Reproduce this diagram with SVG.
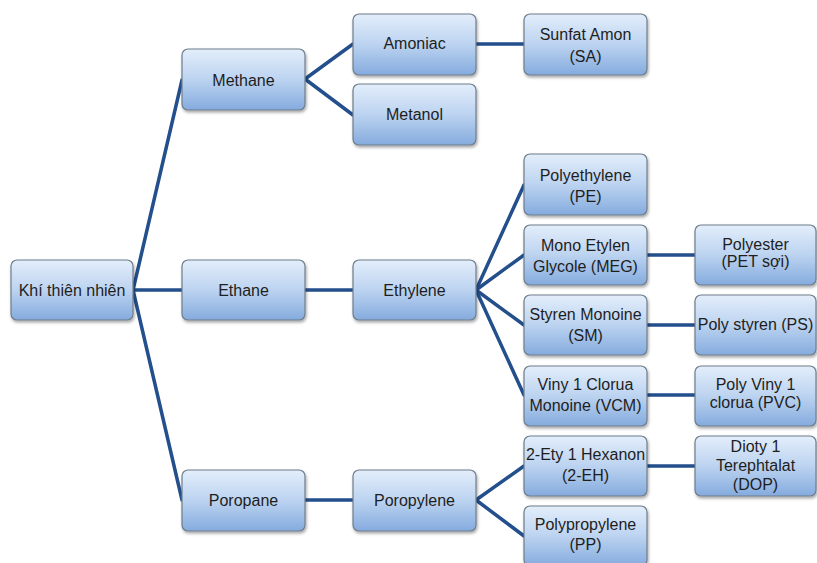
<svg xmlns="http://www.w3.org/2000/svg" width="817" height="563" viewBox="0 0 817 563">
<defs>
<linearGradient id="g" x1="0" y1="0" x2="0" y2="1">
<stop offset="0" stop-color="#e3eefb"/>
<stop offset="0.5" stop-color="#bcd3f0"/>
<stop offset="1" stop-color="#84abde"/>
</linearGradient>
<filter id="sh" x="-10%" y="-10%" width="125%" height="135%">
<feDropShadow dx="1" dy="2" stdDeviation="1.5" flood-color="#000" flood-opacity="0.35"/>
</filter>
<style>
rect.n{fill:url(#g);stroke:#6f7d8c;stroke-width:1.2;filter:url(#sh)}
text{font-family:"Liberation Sans",Arial,sans-serif;font-size:16px;fill:#1e1e1e;text-anchor:middle}
#connectors line{stroke:#234f8c;stroke-width:3.5;stroke-linecap:round}
</style>
</defs>
<rect width="817" height="563" fill="#fff"/>
<g id="connectors">
<line x1="133" y1="290" x2="182" y2="80"/>
<line x1="133" y1="290" x2="182" y2="290"/>
<line x1="133" y1="290" x2="182" y2="500"/>
<line x1="305" y1="79" x2="353" y2="44"/>
<line x1="305" y1="79" x2="353" y2="115"/>
<line x1="476" y1="44" x2="524" y2="44"/>
<line x1="305" y1="290" x2="353" y2="290"/>
<line x1="476" y1="290" x2="524" y2="185"/>
<line x1="476" y1="290" x2="524" y2="255"/>
<line x1="476" y1="290" x2="524" y2="325"/>
<line x1="476" y1="290" x2="524" y2="395"/>
<line x1="647" y1="255" x2="695" y2="255"/>
<line x1="647" y1="325" x2="695" y2="325"/>
<line x1="647" y1="395" x2="695" y2="395"/>
<line x1="305" y1="500" x2="353" y2="500"/>
<line x1="476" y1="500" x2="524" y2="466"/>
<line x1="476" y1="500" x2="524" y2="536"/>
<line x1="647" y1="466" x2="695" y2="466"/>
</g>
<g id="khi"><rect class="n" x="11" y="260" width="122" height="60" rx="6"/><text x="72" y="296">Khí thiên nhiên</text></g>
<g id="methane"><rect class="n" x="182" y="49" width="123" height="61" rx="6"/><text x="243.5" y="86">Methane</text></g>
<g id="ethane"><rect class="n" x="182" y="260" width="123" height="60" rx="6"/><text x="243.5" y="296">Ethane</text></g>
<g id="poropane"><rect class="n" x="182" y="470" width="123" height="61" rx="6"/><text x="243.5" y="506">Poropane</text></g>
<g id="amoniac"><rect class="n" x="353" y="14" width="123" height="61" rx="6"/><text x="414.5" y="49">Amoniac</text></g>
<g id="metanol"><rect class="n" x="353" y="84" width="123" height="61" rx="6"/><text x="414.5" y="120">Metanol</text></g>
<g id="ethylene"><rect class="n" x="353" y="260" width="123" height="60" rx="6"/><text x="414.5" y="296">Ethylene</text></g>
<g id="poropylene"><rect class="n" x="353" y="470" width="123" height="61" rx="6"/><text x="414.5" y="506">Poropylene</text></g>
<g id="sa"><rect class="n" x="524" y="14" width="123" height="61" rx="6"/><text x="585.5" y="40">Sunfat Amon</text><text x="585.5" y="62">(SA)</text></g>
<g id="pe"><rect class="n" x="524" y="154" width="123" height="61" rx="6"/><text x="585.5" y="181">Polyethylene</text><text x="585.5" y="202">(PE)</text></g>
<g id="meg"><rect class="n" x="524" y="225" width="123" height="60" rx="6"/><text x="585.5" y="251">Mono Etylen</text><text x="585.5" y="272">Glycole (MEG)</text></g>
<g id="sm"><rect class="n" x="524" y="295" width="123" height="60" rx="6"/><text x="585.5" y="320">Styren Monoine</text><text x="585.5" y="341">(SM)</text></g>
<g id="vcm"><rect class="n" x="524" y="366" width="123" height="60" rx="6"/><text x="585.5" y="390">Viny 1 Clorua</text><text x="585.5" y="411">Monoine (VCM)</text></g>
<g id="eh"><rect class="n" x="524" y="436" width="123" height="60" rx="6"/><text x="585.5" y="460">2-Ety 1 Hexanon</text><text x="585.5" y="481">(2-EH)</text></g>
<g id="pp"><rect class="n" x="524" y="506" width="123" height="60" rx="6"/><text x="585.5" y="530">Polypropylene</text><text x="585.5" y="550">(PP)</text></g>
<g id="pet"><rect class="n" x="695" y="225" width="121" height="60" rx="6"/><text x="755.5" y="250">Polyester</text><text x="755.5" y="267">(PET sợi)</text></g>
<g id="ps"><rect class="n" x="695" y="295" width="121" height="60" rx="6"/><text x="755.5" y="330">Poly styren (PS)</text></g>
<g id="pvc"><rect class="n" x="695" y="366" width="121" height="60" rx="6"/><text x="755.5" y="390">Poly Viny 1</text><text x="755.5" y="408">clorua (PVC)</text></g>
<g id="dop"><rect class="n" x="695" y="436" width="121" height="60" rx="6"/><text x="755.5" y="452">Dioty 1</text><text x="755.5" y="471">Terephtalat</text><text x="755.5" y="490">(DOP)</text></g>
</svg>
